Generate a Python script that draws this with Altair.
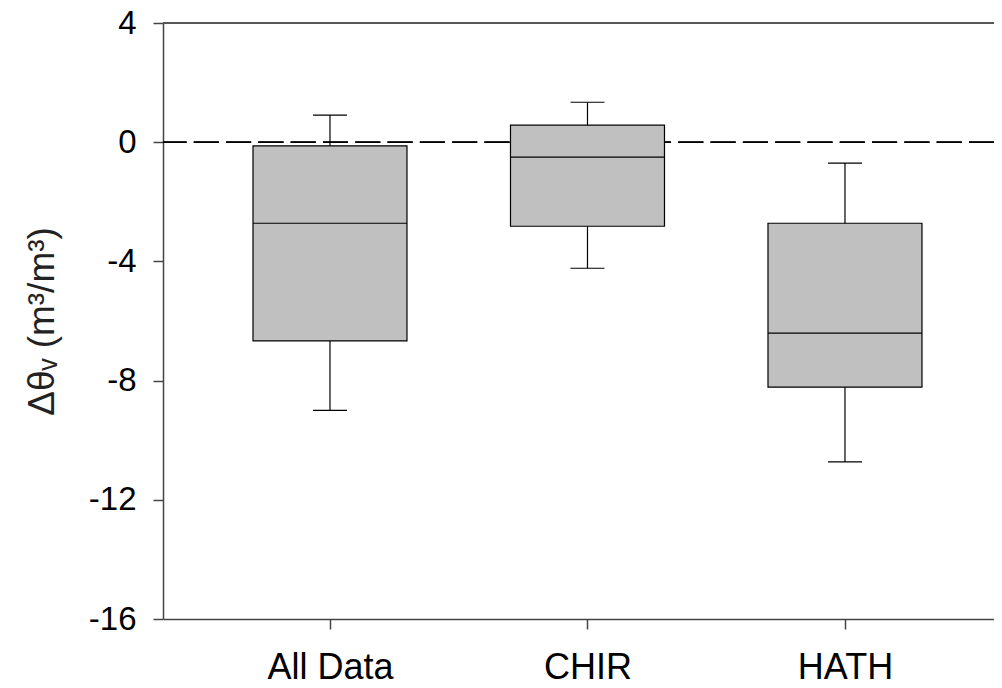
import altair as alt
import pandas as pd

# ---- data ----
categories = ["All Data", "CHIR", "HATH"]
whisker_low = [-9.0, -4.23, -10.73]
q1 = [-6.67, -2.82, -8.22]
median = [-2.72, -0.50, -6.41]
q3 = [-0.12, 0.57, -2.72]
whisker_high = [0.91, 1.34, -0.70]
y_ticks = [-16, -12, -8, -4, 0, 4]

df = pd.DataFrame({
    "cat": categories,
    "pos": list(range(1, len(categories) + 1)),
    "low": whisker_low,
    "q1": q1,
    "median": median,
    "q3": q3,
    "high": whisker_high,
})

FONT = "Liberation Sans"
AX_COLOR = "#444444"

label_expr = " : ".join(
    [f"datum.value == {i + 1} ? '{c}'" for i, c in enumerate(categories[:-1])]
) + f" : '{categories[-1]}'"

x_scale = alt.Scale(domain=[0.3515, 3.5787], nice=False, zero=False)
y_scale = alt.Scale(domain=[-16, 4], nice=False, zero=False)

x_axis = alt.Axis(
    title=None, values=[1, 2, 3], labelExpr=label_expr, grid=False,
    domainColor=AX_COLOR, domainWidth=1.5, tickColor=AX_COLOR, tickWidth=1.5,
    tickSize=10, labelPadding=21, labelFont=FONT, labelFontSize=36,
    labelColor="black", labelFlush=False, labelOverlap=False,
)
y_axis = alt.Axis(
    title="Δθᵥ (m³/m³)", values=y_ticks, labelExpr="'' + datum.value", grid=False,
    domainColor=AX_COLOR, domainWidth=1.5, tickColor=AX_COLOR, tickWidth=1.5,
    tickSize=10, labelPadding=17, labelFont=FONT, labelFontSize=33,
    labelColor="black", labelFlush=False, labelOverlap=False,
    titleFont=FONT, titleFontSize=37, titleFontWeight="normal", titleColor="#222222",
    titleX=-102, titleY=298,
)

base = alt.Chart(df).transform_calculate(
    xl="datum.pos - 0.299", xr="datum.pos + 0.299",
    cl="datum.pos - 0.066", cr="datum.pos + 0.066",
)

zero_line = base.mark_rule(color="black", strokeWidth=1.5, strokeDash=[25, 7.3]).encode(
    y=alt.Y(datum=0, scale=y_scale, axis=y_axis)
)
top_line = base.mark_rule(color="#555555", strokeWidth=1.5).encode(
    y=alt.Y(datum=4, scale=y_scale, axis=y_axis)
)
whisker = base.mark_rule(color="black", strokeWidth=1.2).encode(
    x=alt.X("pos:Q", scale=x_scale, axis=x_axis),
    y=alt.Y("low:Q", scale=y_scale, axis=y_axis),
    y2="high:Q",
)
box = base.mark_bar(fill="#c0c0c0", stroke="black", strokeWidth=1.2).encode(
    x=alt.X("xl:Q", scale=x_scale, axis=x_axis),
    x2="xr:Q",
    y=alt.Y("q1:Q", scale=y_scale, axis=y_axis),
    y2="q3:Q",
)
med = base.mark_rule(color="black", strokeWidth=1.2).encode(
    x=alt.X("xl:Q", scale=x_scale, axis=x_axis),
    x2="xr:Q",
    y=alt.Y("median:Q", scale=y_scale, axis=y_axis),
)
cap_low = base.mark_rule(color="black", strokeWidth=1.2).encode(
    x=alt.X("cl:Q", scale=x_scale, axis=x_axis),
    x2="cr:Q",
    y=alt.Y("low:Q", scale=y_scale, axis=y_axis),
)
cap_high = base.mark_rule(color="black", strokeWidth=1.2).encode(
    x=alt.X("cl:Q", scale=x_scale, axis=x_axis),
    x2="cr:Q",
    y=alt.Y("high:Q", scale=y_scale, axis=y_axis),
)

chart = alt.layer(
    zero_line, whisker, box, med, cap_low, cap_high, top_line
).properties(
    width=831, height=596,
    autosize=alt.AutoSizeParams(type="none"),
    padding={"left": 155, "top": 15, "right": 0, "bottom": 68},
).configure_view(stroke=None)

chart.save("out.html", embed_options={"renderer": "svg", "actions": False})
